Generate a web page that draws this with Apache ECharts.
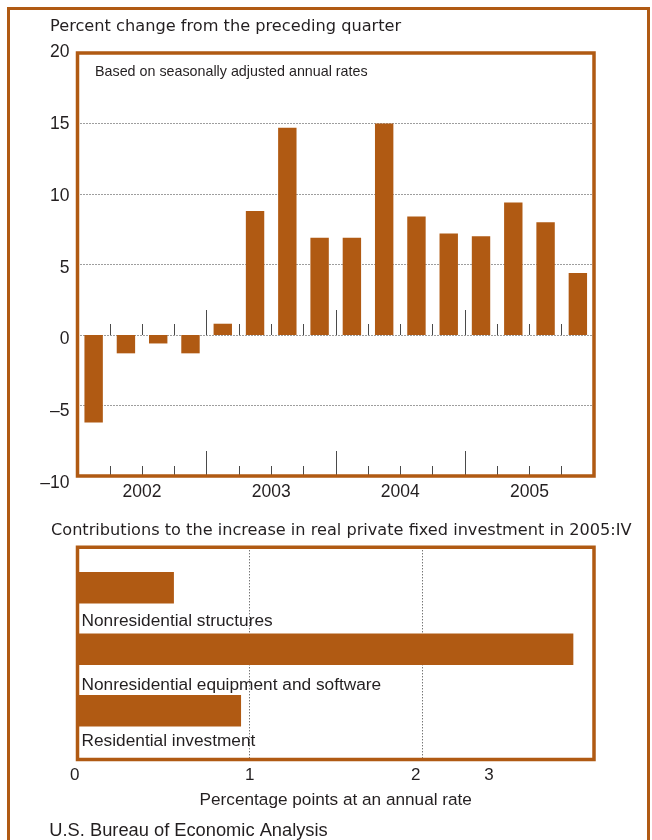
<!DOCTYPE html>
<html>
<head>
<meta charset="utf-8">
<script src="https://cdn.jsdelivr.net/npm/echarts@6/dist/echarts.min.js"></script>
<style>
  html, body { margin: 0; padding: 0; background: #ffffff; }
  #chart { width: 652px; height: 840px; }
</style>
</head>
<body>
<div id="chart"></div>
<script>
// ---- data ----
const quarters = ['2002:I', '2002:II', '2002:III', '2002:IV',
                  '2003:I', '2003:II', '2003:III', '2003:IV',
                  '2004:I', '2004:II', '2004:III', '2004:IV',
                  '2005:I', '2005:II', '2005:III', '2005:IV'];
const years = ['2002', '2003', '2004', '2005'];
const pctChange = [-6.2, -1.3, -0.6, -1.3, 0.8, 8.8, 14.7, 6.9, 6.9, 15.0, 8.4, 7.2, 7.0, 9.4, 8.0, 4.4];
const yTickMin = -10, yTickMax = 20, yTickStep = 5;

const components = ['Nonresidential structures', 'Nonresidential equipment and software', 'Residential investment'];
const contributions = [0.56, 2.88, 0.95];
const xTickMin = 0, xTickMax = 3, xTickStep = 1;

const titleTop = 'Percent change from the preceding quarter';
const noteTop = 'Based on seasonally adjusted annual rates';
const titleBottom = 'Contributions to the increase in real private fixed investment in 2005:IV';
const xNameBottom = 'Percentage points at an annual rate';
const source = 'U.S. Bureau of Economic Analysis';

// ---- style ----
const BROWN = '#b05a13';
const TEXT = '#231f20';
const TICK = '#4a4a4a';
const GRIDC = '#3c3c3c';
const SANS = 'Liberation Sans';
const WIDE = 'DejaVu Sans';
const labelDy = [17.4, 20.3, 14.3];

const chart = echarts.init(document.getElementById('chart'), null, { renderer: 'canvas' });

const fmtNum = v => String(v).replace('-', '\u2013');

const tickStyle = { color: TICK, width: 1 };

const option = {
  animation: false,
  backgroundColor: '#ffffff',
  grid: [
    { // 0: top plot
      left: 77.5, right: 58, top: 53, bottom: 364,
      show: true, borderColor: BROWN, borderWidth: 3.5, z: 5
    },
    { // 1: top plot y labels
      left: 77.5, right: 58, top: 52.2, bottom: 356.7, show: false
    },
    { // 2: bottom box
      left: 77.5, right: 58, top: 547.3, bottom: 80.4,
      show: true, borderColor: BROWN, borderWidth: 3.5, z: 5
    },
    { // 3: bottom bars
      left: 77.5, right: 58, top: 557, bottom: 98.5, show: false
    }
  ],
  xAxis: [
    { gridIndex: 0, type: 'category', data: quarters, position: 'bottom',
      axisLine: { show: false, onZero: false },
      axisTick: { show: true, interval: 0, inside: true, length: 10, lineStyle: tickStyle },
      axisLabel: { show: false, interval: 0 }, splitLine: { show: false } },
    { gridIndex: 0, type: 'category', data: years, position: 'bottom',
      axisLine: { show: false, onZero: false },
      axisTick: { show: true, interval: 0, inside: true, length: 25, lineStyle: tickStyle },
      axisLabel: { show: true, interval: 0, margin: 7.5, color: TEXT, fontFamily: SANS, fontSize: 17.5 },
      splitLine: { show: false } },
    { gridIndex: 0, type: 'category', data: quarters, position: 'bottom',
      axisLine: { show: false, onZero: true, onZeroAxisIndex: 0 },
      axisTick: { show: true, interval: 0, inside: true, length: 11, lineStyle: tickStyle },
      axisLabel: { show: false, interval: 0 }, splitLine: { show: false } },
    { gridIndex: 0, type: 'category', data: years, position: 'bottom',
      axisLine: { show: false, onZero: true, onZeroAxisIndex: 0 },
      axisTick: { show: true, interval: 0, inside: true, length: 25, lineStyle: tickStyle },
      axisLabel: { show: false }, splitLine: { show: false } },
    { gridIndex: 1, type: 'value', show: false, min: 0, max: 1 },
    { gridIndex: 2, type: 'value', min: xTickMin, max: xTickMax, interval: xTickStep,
      position: 'bottom',
      axisLine: { show: false }, axisTick: { show: false },
      axisLabel: {
        show: true, margin: 7.5, color: TEXT, fontFamily: SANS, fontSize: 17,
        formatter: v => '{s' + v + '|' + v + '}',
        rich: {
          s0: { fontFamily: SANS, fontSize: 17, color: TEXT, padding: [0, 5.4, 0, 0] },
          s1: { fontFamily: SANS, fontSize: 17, color: TEXT, padding: [0, 0, 0, 0] },
          s2: { fontFamily: SANS, fontSize: 17, color: TEXT, padding: [0, 12, 0, 0] },
          s3: { fontFamily: SANS, fontSize: 17, color: TEXT, padding: [0, 210, 0, 0] }
        }
      },
      splitLine: { show: true, lineStyle: { color: GRIDC, width: 1, type: [1, 2] } },
      name: xNameBottom, nameLocation: 'middle', nameGap: 32.3,
      nameTextStyle: { color: TEXT, fontFamily: SANS, fontSize: 17.2 } },
    { gridIndex: 3, type: 'value', min: xTickMin, max: xTickMax, show: false }
  ],
  yAxis: [
    { gridIndex: 0, type: 'value', min: yTickMin, max: yTickMax, interval: yTickStep,
      axisLine: { show: false }, axisTick: { show: false }, axisLabel: { show: false },
      splitLine: { show: true, lineStyle: { color: GRIDC, width: 1, type: [1, 2] } } },
    { gridIndex: 1, type: 'value', min: yTickMin, max: yTickMax, interval: yTickStep,
      axisLine: { show: false }, axisTick: { show: false },
      axisLabel: { show: true, margin: 8, color: TEXT, fontFamily: SANS, fontSize: 17.5, formatter: fmtNum },
      splitLine: { show: false } },
    { gridIndex: 2, type: 'value', min: 0, max: 1, show: false, splitLine: { show: false } },
    { gridIndex: 3, type: 'category', data: components, inverse: true, show: false }
  ],
  series: [
    { type: 'bar', xAxisIndex: 0, yAxisIndex: 0, data: pctChange, barWidth: '57%',
      itemStyle: { color: BROWN }, z: 2 },
    { type: 'bar', xAxisIndex: 6, yAxisIndex: 3, barWidth: 31.6,
      itemStyle: { color: BROWN },
      data: contributions.map((v, i) => ({
        value: v,
        label: {
          show: true, formatter: components[i], position: ['0%', '100%'],
          offset: [4, labelDy[i]], align: 'left', verticalAlign: 'middle',
          color: TEXT, fontFamily: SANS, fontSize: 17.3
        }
      })) }
  ],
  graphic: [
    { type: 'rect', shape: { x: 8.5, y: 8.5, width: 640, height: 900 },
      style: { fill: null, stroke: BROWN, lineWidth: 3 }, silent: true, z: 10 },
    { type: 'text', x: 50, y: 26.7,
      style: { text: titleTop, fill: TEXT, font: '16.2px "' + WIDE + '"', textAlign: 'left', textVerticalAlign: 'middle' } },
    { type: 'text', x: 95, y: 72,
      style: { text: noteTop, fill: TEXT, font: '14.3px "' + SANS + '"', textAlign: 'left', textVerticalAlign: 'middle' } },
    { type: 'text', x: 51, y: 531,
      style: { text: titleBottom, fill: TEXT, font: '16.15px "' + WIDE + '"', textAlign: 'left', textVerticalAlign: 'middle' } },
    { type: 'text', x: 49.3, y: 831,
      style: { text: source, fill: TEXT, font: '18.3px "' + SANS + '"', textAlign: 'left', textVerticalAlign: 'middle' } }
  ]
};

chart.setOption(option);
</script>
</body>
</html>
